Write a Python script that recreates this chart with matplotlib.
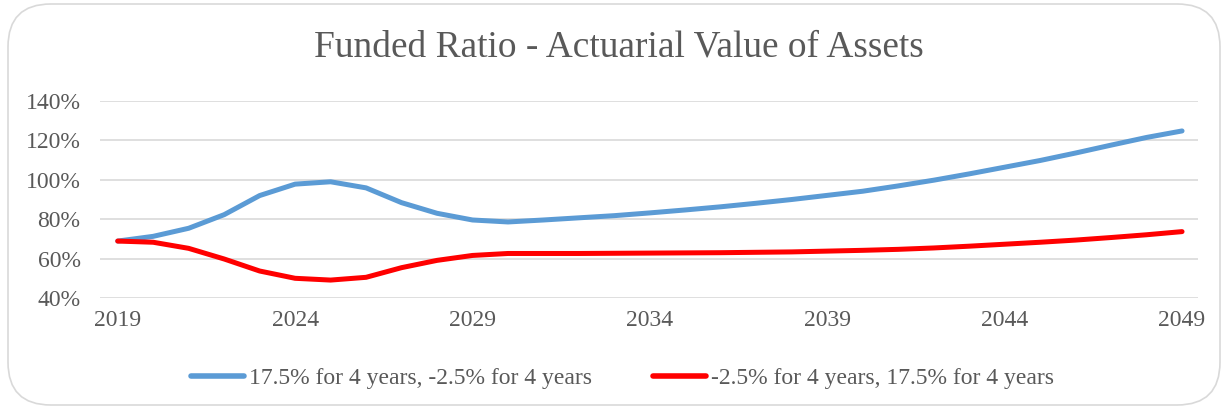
import numpy as np
import matplotlib.pyplot as plt
from matplotlib.patches import FancyBboxPatch
from matplotlib.ticker import FuncFormatter

# Funded ratio projections
years = list(range(2019, 2050))
up_then_down = [68.9, 71.3, 75.4, 82.3, 92.0, 97.8, 99.0, 95.9, 88.4, 83.0, 79.6,
                78.6, 79.6, 80.7, 81.8, 83.2, 84.7, 86.3, 88.1, 90.0, 92.1,
                94.2, 96.9, 99.8, 103.0, 106.4, 109.8, 113.6, 117.6, 121.5, 124.8]
down_then_up = [68.9, 68.3, 65.2, 59.8, 53.7, 50.0, 49.1, 50.5, 55.4, 59.1, 61.6,
                62.6, 62.6, 62.6, 62.7, 62.8, 62.9, 63.0, 63.2, 63.4, 63.8,
                64.2, 64.7, 65.4, 66.3, 67.3, 68.3, 69.4, 70.7, 72.1, 73.7]
labels = ["17.5% for 4 years, -2.5% for 4 years",
          "-2.5% for 4 years, 17.5% for 4 years"]
colors = ["#5B9BD5", "#FF0000"]
yticks = [40, 60, 80, 100, 120, 140]
xticks = [2019, 2024, 2029, 2034, 2039, 2044, 2049]

plt.rcParams['font.family'] = ['Liberation Serif', 'DejaVu Serif']
txt = "#595959"

fig = plt.figure(figsize=(12.25, 4.09), dpi=100)

# rounded chart border
border = FancyBboxPatch((8 / 1225, 4 / 409), 1212 / 1225, 401 / 409,
                        boxstyle="round,pad=0,rounding_size=0.035",
                        transform=fig.transFigure, fc="none", ec="#D9D9D9",
                        lw=1.2, mutation_aspect=1225 / 409, zorder=-1)
fig.patches.append(border)

ax = fig.add_axes([100 / 1225, 1 - 298 / 409, 1098 / 1225, 197 / 409])
ax.set_facecolor("none")

for vals, lab, c in zip([up_then_down, down_then_up], labels, colors):
    ax.plot(years, vals, color=c, lw=3.6, label=lab, solid_capstyle='round',
            solid_joinstyle='round', zorder=3)

ax.set_xlim(2018.5, 2049.45)
ax.set_ylim(40, 140)
ax.set_yticks(yticks)
ax.set_xticks(xticks)
ax.yaxis.set_major_formatter(FuncFormatter(lambda v, p: f"{v:.0f}%"))
ax.grid(axis='y', color="#D9D9D9", lw=1.2)
ax.set_axisbelow(True)
ax.tick_params(length=0, labelsize=17, colors=txt)
ax.tick_params(axis='y', pad=14)
ax.tick_params(axis='x', pad=9)
for s in ax.spines.values():
    s.set_visible(False)

fig.text(0.505, 1 - 47 / 409, "Funded Ratio - Actuarial Value of Assets",
         ha='center', va='center', fontsize=26.9, color=txt)

leg = fig.legend(loc='center', bbox_to_anchor=(0.508, 1 - 378 / 409), ncol=2,
                 frameon=False, fontsize=17, handlelength=2.25,
                 columnspacing=2.6, handletextpad=0.2)
for t in leg.get_texts():
    t.set_color(txt)
for h in leg.get_lines():
    h.set_linewidth(4)

fig.savefig("out.png", dpi=100)
